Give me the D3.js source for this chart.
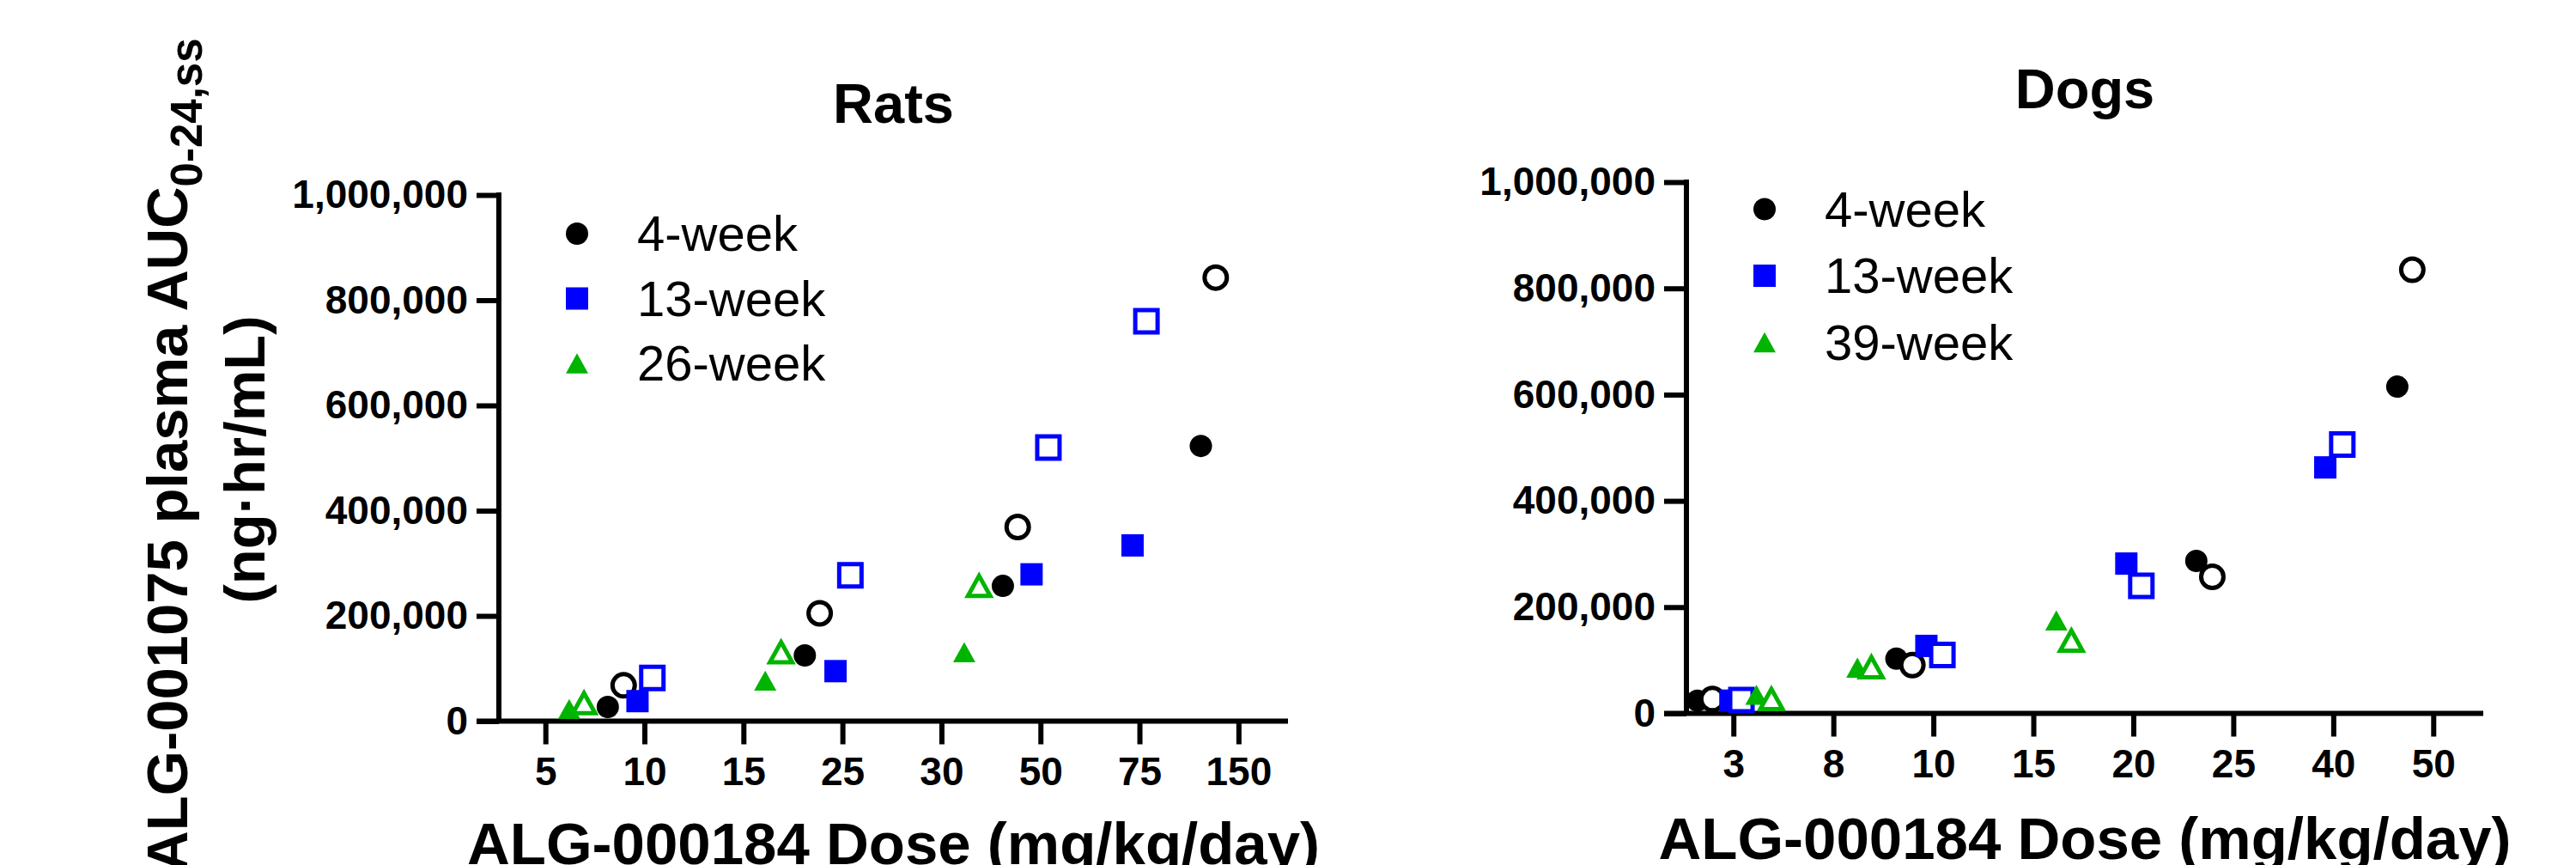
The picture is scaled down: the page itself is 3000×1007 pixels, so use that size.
<!DOCTYPE html>
<html>
<head>
<meta charset="utf-8">
<script src="https://cdn.jsdelivr.net/npm/d3@7"></script>
<style>
  body { margin: 0; background: #fff; }
  svg { display: block; font-family: "Liberation Sans", Arial, sans-serif; }
</style>
</head>
<body>
<div id="chart"></div>
<script>
// tick labels
const ratsDoseLabels = ["5", "10", "15", "25", "30", "50", "75", "150"];
const dogsDoseLabels = ["3", "8", "10", "15", "20", "25", "40", "50"];
const aucTicks = [0, 200000, 400000, 600000, 800000, 1000000];

// legend names
const ratsStudies = ["4-week", "13-week", "26-week"];
const dogsStudies = ["4-week", "13-week", "39-week"];

// Rats: x = position along the dose axis (tick slots), y = AUC
const rats4wkPos = [0.63, 2.62, 4.62, 6.62];
const rats4wkAuc = [27000, 125000, 257000, 523000];
const rats4wkOpenPos = [0.79, 2.77, 4.77, 6.77];
const rats4wkOpenAuc = [68000, 205000, 369000, 843000];
const rats13wkPos = [0.93, 2.93, 4.91, 5.93];
const rats13wkAuc = [38000, 95000, 279000, 334000];
const rats13wkOpenPos = [1.08, 3.08, 5.08, 6.07];
const rats13wkOpenAuc = [82000, 277000, 520000, 760000];
const rats26wkPos = [0.24, 2.22, 4.23];
const rats26wkAuc = [23000, 77000, 131000];
const rats26wkOpenPos = [0.39, 2.38, 4.38];
const rats26wkOpenAuc = [34000, 131000, 257000];

// Dogs
const dogs4wkPos = [-0.36, 1.63, 4.63, 6.64];
const dogs4wkAuc = [24000, 103000, 287000, 615000];
const dogs4wkOpenPos = [-0.21, 1.79, 4.79, 6.79];
const dogs4wkOpenAuc = [27000, 91000, 257000, 835000];
const dogs13wkPos = [-0.03, 1.93, 3.93, 5.92];
const dogs13wkAuc = [24000, 127000, 282000, 463000];
const dogs13wkOpenPos = [0.08, 2.09, 4.08, 6.09];
const dogs13wkOpenAuc = [25000, 110000, 240000, 506000];
const dogs39wkPos = [0.23, 1.24, 3.23];
const dogs39wkAuc = [35000, 86000, 175000];
const dogs39wkOpenPos = [0.38, 1.38, 3.38];
const dogs39wkOpenAuc = [27000, 87000, 137000];

const colors = ["#000000", "#0000ff", "#00b400"];
const shapes = ["circle", "square", "triangle"];

const width = 3000;
const height = 1007;
const axisWidth = 6;
const tickLen = 26;

const svg = d3.select("#chart")
  .append("svg")
  .attr("width", width)
  .attr("height", height);

// marker path centred on (0,0), s = width
function markerPath(shape, s) {
  const r = s / 2;
  if (shape == "circle") {
    return `M${r},0A${r},${r} 0 1,1 ${-r},0A${r},${r} 0 1,1 ${r},0Z`;
  }
  if (shape == "square") {
    return `M${-r},${-r}H${r}V${r}H${-r}Z`;
  }
  const h = r * 0.9;
  return `M0,${-h}L${r},${h}L${-r},${h}Z`;
}

function toPoints(pos, auc) {
  return pos.map((p, i) => ({ x: p, y: auc[i] }));
}

function drawPanel(p) {
  const g = svg.append("g");

  const x = d3.scaleLinear().domain([-0.47, 7.5]).range([p.left, p.right]);
  const y = d3.scaleLinear().domain([0, 1000000]).range([p.bottom, p.top]);

  // y axis
  const yAxis = g.append("g")
    .attr("transform", `translate(${p.left},0)`)
    .call(d3.axisLeft(y)
      .tickValues(aucTicks)
      .tickFormat(d3.format(","))
      .tickSize(tickLen)
      .tickPadding(10));
  yAxis.select(".domain").remove();
  yAxis.selectAll("line").attr("stroke", "#000").attr("stroke-width", axisWidth);
  yAxis.selectAll("text")
    .attr("font-size", 46)
    .attr("font-weight", "bold")
    .attr("fill", "#000")
    .attr("font-family", "Liberation Sans, Arial, sans-serif");
  g.append("line")
    .attr("x1", p.left).attr("x2", p.left)
    .attr("y1", p.top - axisWidth / 2).attr("y2", p.bottom)
    .attr("stroke", "#000").attr("stroke-width", axisWidth);

  // x axis
  const xAxis = g.append("g")
    .attr("transform", `translate(0,${p.bottom})`)
    .call(d3.axisBottom(x)
      .tickValues(d3.range(p.doseLabels.length))
      .tickFormat(i => p.doseLabels[i])
      .tickSize(27)
      .tickPadding(15));
  xAxis.select(".domain").remove();
  xAxis.selectAll("line").attr("stroke", "#000").attr("stroke-width", axisWidth);
  xAxis.selectAll("text")
    .attr("font-size", 46)
    .attr("font-weight", "bold")
    .attr("fill", "#000")
    .attr("font-family", "Liberation Sans, Arial, sans-serif");
  g.append("line")
    .attr("x1", p.left - tickLen).attr("x2", p.right)
    .attr("y1", p.bottom).attr("y2", p.bottom)
    .attr("stroke", "#000").attr("stroke-width", axisWidth);

  // points, filled then open for each study
  p.series.forEach((s, k) => {
    [[s.filled, false], [s.open, true]].forEach(([pts, open]) => {
      g.selectAll(null)
        .data(pts)
        .enter()
        .append("path")
          .attr("transform", d => `translate(${x(d.x)},${y(d.y)})`)
          .attr("d", markerPath(shapes[k], 26))
          .attr("fill", open ? "#fff" : colors[k])
          .attr("stroke", open ? colors[k] : "none")
          .attr("stroke-width", open ? 5 : 0);
    });
  });

  // legend
  p.names.forEach((name, k) => {
    const ly = p.legendY + k * p.legendStep;
    g.append("path")
      .attr("transform", `translate(${p.left + 91},${ly})`)
      .attr("d", markerPath(shapes[k], 26))
      .attr("fill", colors[k]);
    g.append("text")
      .attr("x", p.left + 161)
      .attr("y", ly + 20)
      .attr("font-size", 58)
      .text(name);
  });

  // title
  g.append("text")
    .attr("x", (p.left + p.right) / 2)
    .attr("y", p.titleY)
    .attr("text-anchor", "middle")
    .attr("font-size", 65)
    .attr("font-weight", "bold")
    .text(p.title);

  // x axis title
  g.append("text")
    .attr("x", (p.left + p.right) / 2)
    .attr("y", p.xTitleY)
    .attr("text-anchor", "middle")
    .attr("font-size", 69)
    .attr("font-weight", "bold")
    .text("ALG-000184 Dose (mg/kg/day)");
}

drawPanel({
  title: "Rats", left: 581, right: 1500, top: 227, bottom: 839.5,
  titleY: 143, xTitleY: 1006, legendY: 272, legendStep: 75.5,
  doseLabels: ratsDoseLabels, names: ratsStudies,
  series: [
    { filled: toPoints(rats4wkPos, rats4wkAuc), open: toPoints(rats4wkOpenPos, rats4wkOpenAuc) },
    { filled: toPoints(rats13wkPos, rats13wkAuc), open: toPoints(rats13wkOpenPos, rats13wkOpenAuc) },
    { filled: toPoints(rats26wkPos, rats26wkAuc), open: toPoints(rats26wkOpenPos, rats26wkOpenAuc) }
  ]
});

drawPanel({
  title: "Dogs", left: 1964, right: 2892, top: 212, bottom: 830.5,
  titleY: 126, xTitleY: 1000, legendY: 243.5, legendStep: 77.5,
  doseLabels: dogsDoseLabels, names: dogsStudies,
  series: [
    { filled: toPoints(dogs4wkPos, dogs4wkAuc), open: toPoints(dogs4wkOpenPos, dogs4wkOpenAuc) },
    { filled: toPoints(dogs13wkPos, dogs13wkAuc), open: toPoints(dogs13wkOpenPos, dogs13wkOpenAuc) },
    { filled: toPoints(dogs39wkPos, dogs39wkAuc), open: toPoints(dogs39wkOpenPos, dogs39wkOpenAuc) }
  ]
});

// shared y axis title
const yTitle = svg.append("text")
  .attr("transform", "translate(218,530) rotate(-90)")
  .attr("text-anchor", "middle")
  .attr("font-size", 67)
  .attr("font-weight", "bold")
  .text("ALG-001075 plasma AUC");
yTitle.append("tspan")
  .attr("font-size", 51)
  .attr("dy", 17)
  .text("0-24,ss");

svg.append("text")
  .attr("transform", "translate(308,535) rotate(-90)")
  .attr("text-anchor", "middle")
  .attr("font-size", 67)
  .attr("font-weight", "bold")
  .text("(ng·hr/mL)");
</script>
</body>
</html>
